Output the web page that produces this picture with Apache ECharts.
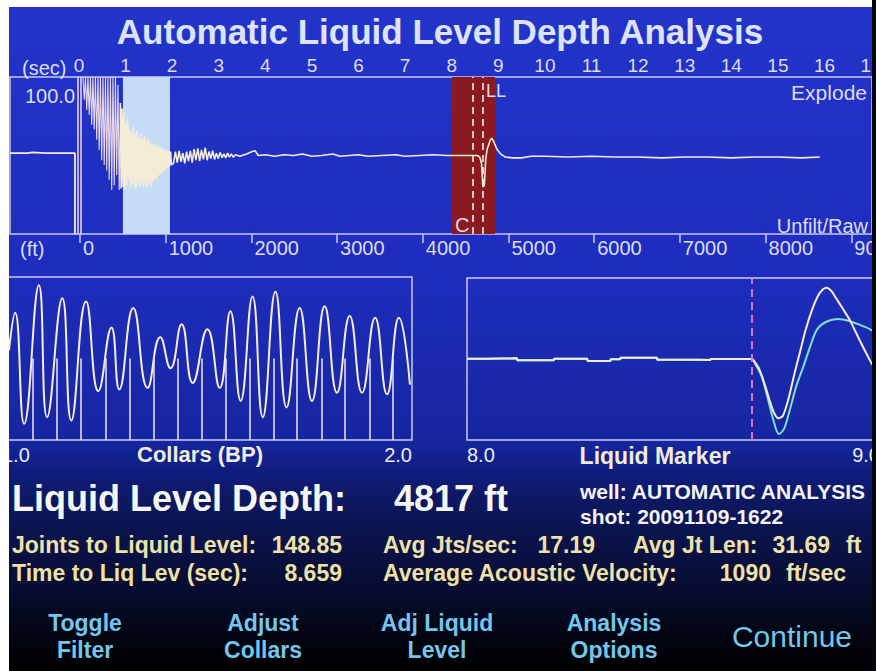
<!DOCTYPE html>
<html><head><meta charset="utf-8">
<script src="https://cdn.jsdelivr.net/npm/echarts@6/dist/echarts.min.js"></script>
<style>html,body{margin:0;padding:0;background:#fff;overflow:hidden}#c{width:876px;height:671px}</style>
</head><body><div id="c"></div>
<script>
// ---------- data ----------
const titleText = 'Automatic Liquid Level Depth Analysis';
const secTicks = [0,1,2,3,4,5,6,7,8,9,10,11,12,13,14,15,16,17];
const ftTicks = [0,1000,2000,3000,4000,5000,6000,7000,8000,9000];
const secRange = [-1.48, 17.02];
const ftRange = [-817, 9242];
const topScaleLabel = '100.0';
const filterBand = [0.944, 1.953];
const liquidBand = [8.006, 8.929];
const collarMarkTime = 8.457;
const liquidLevelTime = 8.671;
const zeroMarks = [-0.02, 0.045];
// trace before the shot (time, amplitude)
const topTracePre = [[-1.48,3],[-1.1,3],[-1.0,4],[-0.7,3],[-0.4,3],[-0.086,3],[-0.086,-100]];
// clipped burst just after the shot (time, amplitude)
const topTraceBurst = [
[0.086,100],[0.113,71],[0.140,100],[0.167,58],[0.193,100],[0.220,52],[0.247,100],[0.274,39],[0.300,100],[0.327,33],
[0.354,100],[0.381,20],[0.408,100],[0.435,7],[0.461,100],[0.488,-6],[0.515,100],[0.542,-12],[0.569,100],[0.596,-19],
[0.622,100],[0.649,-31],[0.676,100],[0.703,-44],[0.730,100],[0.757,-38],[0.783,100],[0.810,-25],[0.837,90],[0.864,-44],
[0.890,67]
];
// rest of the trace (time, amplitude)
const topTrace = [
[0.890,67],[0.905,-42],[0.925,60],[0.945,-40],[0.965,55],[0.985,-43],[1.005,42],[1.025,-38],[1.045,48],[1.065,-30],
[1.085,35],[1.105,-41],[1.125,30],[1.145,-36],[1.165,38],[1.185,-39],[1.205,27],[1.225,-42],[1.245,32],[1.265,-37],
[1.285,24],[1.305,-40],[1.325,28],[1.345,-35],[1.365,22],[1.385,-41],[1.405,25],[1.425,-38],[1.445,19],[1.465,-40],
[1.485,21],[1.505,-36],[1.525,17],[1.545,-39],[1.565,15],[1.585,-33],[1.605,16],[1.625,-30],[1.645,12],[1.665,-31],
[1.685,14],[1.705,-26],[1.725,10],[1.745,-24],[1.765,11],[1.785,-21],[1.805,9],[1.825,-20],[1.845,8],[1.865,-17],
[1.885,7],[1.905,-15],[1.925,6],[1.945,-14],[1.965,5],[1.985,-12],
[2.03,-10],[2.07,5],[2.11,-9],[2.15,6],[2.19,-8],[2.23,3],[2.27,-10],[2.31,5],[2.35,-7],[2.39,6],[2.43,-9],[2.47,8],
[2.51,-6],[2.55,9],[2.59,-7],[2.63,7],[2.67,-5],[2.71,10],[2.75,-6],[2.79,5],[2.83,-4],[2.87,6],[2.91,-5],[2.95,3],
[2.99,-4],[3.03,4],[3.07,-3],[3.11,2],[3.15,-3],[3.19,3],[3.23,-2],[3.27,2],[3.31,-2],[3.36,1],
[3.45,-1],[3.6,2],[3.72,5],[3.78,6],[3.85,0],[4.0,1],[4.2,-1],[4.4,1],[4.6,0],[4.8,2],[5.0,-1],[5.2,0],[5.45,2],
[5.6,-1],[5.8,0],[6.0,1],[6.2,-1],[6.5,0],[6.8,1],[7.0,-1],[7.3,0],[7.6,1],[7.9,0],[8.2,0],[8.55,0],
[8.60,-2],[8.64,-10],[8.67,-40],[8.70,-38],[8.73,-5],[8.76,8],[8.83,20],[8.86,22],[8.90,18],[8.97,8],[9.05,2],
[9.15,-2],[9.3,-3],[9.5,-3],[9.7,-1],[10.0,-1],[10.5,-2],[11.0,-1],[11.5,-2],[12.0,-2],[12.5,-3],[13.0,-2],
[13.5,-2],[14.0,-3],[14.5,-2],[15.0,-2],[15.5,-3],[15.9,-2]
];
// collars window (time, amplitude)
const collarRange = [1.0, 2.0];
const collarWave = [
[1.017,55],[1.032,78],[1.054,10],[1.090,95],[1.110,14],[1.147,87],[1.169,12],[1.205,85],[1.235,30],[1.267,69],
[1.286,31],[1.320,81],[1.355,32],[1.386,63],[1.411,44],[1.438,71],[1.465,35],[1.501,68],[1.531,32],[1.557,79],
[1.582,24],[1.611,88],[1.636,14],[1.667,91],[1.694,20],[1.726,81],[1.756,24],[1.787,82],[1.817,29],[1.848,76],
[1.878,29],[1.910,75],[1.939,28],[1.968,75],[1.995,34]
];
const collarTimes = [1.074,1.133,1.192,1.252,1.311,1.369,1.429,1.487,1.545,1.604,1.663,1.720,1.779,1.836,1.896,1.954];
const collarHeight = 50;
// liquid marker window
const markerRange = [8.0, 9.0];
const markerRaw = [
[8.0,50.2],[8.048,50.2],[8.049,50.4],[8.121,50.4],[8.122,49.2],[8.210,49.2],[8.211,50.2],[8.291,50.2],[8.292,48.8],
[8.347,48.8],[8.348,49.8],[8.371,49.8],[8.372,50.8],[8.460,50.8],[8.461,49.6],[8.516,49.6],[8.517,49.4],[8.589,49.4],
[8.590,50],[8.680,50],[8.689,50],[8.700,47],[8.709,43],[8.720,35],[8.732,25],[8.743,17],[8.754,13.4],[8.765,15],
[8.778,25],[8.792,40],[8.806,54],[8.820,68],[8.835,80],[8.850,89],[8.862,93],[8.871,94],[8.882,92],[8.895,87],
[8.910,81],[8.927,74],[8.950,62],[8.976,49],[8.990,43],[9.0,39]
];
const markerFiltered = [
[8.0,50.2],[8.048,50.2],[8.049,50.4],[8.121,50.4],[8.122,49.2],[8.210,49.2],[8.211,50.2],[8.291,50.2],[8.292,48.8],
[8.347,48.8],[8.348,49.8],[8.371,49.8],[8.372,50.8],[8.460,50.8],[8.461,49.6],[8.516,49.6],[8.517,49.4],[8.589,49.4],
[8.590,50],[8.680,50],[8.689,50],[8.700,46],[8.714,39],[8.727,27],[8.741,13],[8.755,3.7],[8.768,7],[8.781,18],
[8.797,33],[8.814,45],[8.830,57],[8.847,68],[8.870,73],[8.898,74.7],[8.925,73.5],[8.952,71],[8.975,68.5],[8.990,66],[9.0,64]
];
const liquidMarkTime = 8.6925;
// info panel
const depthLabel = 'Liquid Level Depth:';
const depthValue = '4817 ft';
const wellLine = 'well: AUTOMATIC ANALYSIS';
const shotLine = 'shot: 20091109-1622';
const statLabels = ['Joints to Liquid Level:', 'Time to Liq Lev (sec):', 'Avg Jts/sec:', 'Average Acoustic Velocity:', 'Avg Jt Len:'];
const statValues = ['148.85', '8.659', '17.19', '1090', '31.69'];
const statUnits = ['', '', '', 'ft/sec', 'ft'];
const buttonLabels = ['Toggle\nFilter', 'Adjust\nCollars', 'Adj Liquid\nLevel', 'Analysis\nOptions', 'Continue'];

// ---------- layout / style ----------
const FF = '"Liberation Sans", Arial, Helvetica, sans-serif';
const frameColor = '#c9c9ee';
const axisTextColor = '#dcdcf6';
const cream = '#f3ecd6';
const statColor = '#f0e2a4';
const btnColor = '#74c6ee';

function T(text, x, y, size, color, align, weight, lh) {
  const st = { text: text, fill: color, font: (weight || 'normal') + ' ' + size + 'px ' + FF,
               textAlign: align || 'left', textVerticalAlign: 'middle' };
  if (lh) st.lineHeight = lh;
  return { type: 'text', x: x, y: y, z: 50, silent: true, style: st };
}

const graphics = [
  T(titleText, 440, 31, 35, '#dde2ff', 'center', 'bold'),
  T('(sec)', 22, 68, 20, axisTextColor),
  T('(ft)', 20, 249, 20, axisTextColor),
  T(topScaleLabel, 25, 96, 20, axisTextColor),
  T('Explode', 867, 92, 21, axisTextColor, 'right'),
  T('Unfilt/Raw', 868, 226, 20, axisTextColor, 'right'),
  T('LL', 486, 91, 18, axisTextColor),
  T('C', 455, 225, 20, axisTextColor),
  T('Collars (BP)', 200, 454, 22, '#f0ecd8', 'center', 'bold'),
  T('Liquid Marker', 655, 456, 23, '#f0ecd8', 'center', 'bold'),
  T(depthLabel, 12, 498, 36, '#f6f6f2', 'left', 'bold'),
  T(depthValue, 394, 498, 36, '#f6f6f2', 'left', 'bold'),
  T(wellLine, 580, 491, 21, '#f4f4f4', 'left', 'bold'),
  T(shotLine, 580, 516, 21, '#f4f4f4', 'left', 'bold'),
  T(statLabels[0], 12, 545, 23, statColor, 'left', 'bold'),
  T(statValues[0], 342, 545, 23, statColor, 'right', 'bold'),
  T(statLabels[1], 12, 573, 23, statColor, 'left', 'bold'),
  T(statValues[1], 342, 573, 23, statColor, 'right', 'bold'),
  T(statLabels[2], 383, 545, 23, statColor, 'left', 'bold'),
  T(statValues[2], 595, 545, 23, statColor, 'right', 'bold'),
  T(statLabels[3], 383, 573, 23, statColor, 'left', 'bold'),
  T(statValues[3], 771, 573, 23, statColor, 'right', 'bold'),
  T(statUnits[3], 786, 573, 23, statColor, 'left', 'bold'),
  T(statLabels[4], 633, 545, 23, statColor, 'left', 'bold'),
  T(statValues[4], 830, 545, 23, statColor, 'right', 'bold'),
  T(statUnits[4], 846, 545, 23, statColor, 'left', 'bold')
];
const btnX = [85, 263, 437, 614, 792];
buttonLabels.forEach(function (b, i) {
  const last = i === buttonLabels.length - 1;
  graphics.push(T(b, btnX[i], 636, last ? 30 : 23, btnColor, 'center', last ? 'normal' : 'bold', 27));
});
// screen edges
graphics.push({ type: 'rect', z: 100, silent: true, shape: { x: 0, y: 0, width: 9, height: 671 }, style: { fill: '#ffffff' } });
graphics.push({ type: 'rect', z: 100, silent: true, shape: { x: 0, y: 0, width: 872, height: 7 }, style: { fill: '#ffffff' } });
graphics.push({ type: 'rect', z: 100, silent: true, shape: { x: 872, y: 0, width: 4, height: 671 }, style: { fill: '#08080c' } });

const hiddenY = function (idx, min, max) {
  return { type: 'value', gridIndex: idx, min: min, max: max, show: false, splitLine: { show: false } };
};
const baseX = { type: 'value', splitLine: { show: false }, axisLine: { show: false }, axisTick: { show: false } };
const gridBase = { show: true, borderColor: frameColor, borderWidth: 1.5, backgroundColor: 'transparent',
                   containLabel: false, outerBoundsMode: 'none' };
const plain = function (v) { return String(v); };

const option = {
  animation: false,
  backgroundColor: {
    type: 'linear', x: 0, y: 0, x2: 0, y2: 1,
    colorStops: [
      { offset: 0, color: '#2334c9' }, { offset: 0.40, color: '#1e2dbe' }, { offset: 0.656, color: '#1626a0' },
      { offset: 0.70, color: '#101d80' }, { offset: 0.745, color: '#0d1862' }, { offset: 0.81, color: '#0a1248' },
      { offset: 0.894, color: '#060b2a' }, { offset: 0.954, color: '#02040e' }, { offset: 1, color: '#000000' }
    ]
  },
  grid: [
    Object.assign({ left: 10, top: 77, width: 862, height: 157 }, gridBase),
    Object.assign({ left: 2, top: 277, width: 410, height: 163 }, gridBase),
    Object.assign({ left: 467, top: 278, width: 413, height: 162 }, gridBase)
  ],
  xAxis: [
    Object.assign({}, baseX, { gridIndex: 0, position: 'top', min: secRange[0], max: secRange[1],
      axisLabel: { customValues: secTicks, formatter: plain, color: axisTextColor, fontSize: 19, fontFamily: FF, margin: 2 } }),
    Object.assign({}, baseX, { gridIndex: 0, position: 'bottom', min: ftRange[0], max: ftRange[1],
      axisTick: { show: true, customValues: ftTicks, length: 9, lineStyle: { color: frameColor, width: 1.5 } },
      axisLabel: { customValues: ftTicks, formatter: plain, color: axisTextColor, fontSize: 20, fontFamily: FF, margin: 4, align: 'left', padding: [0, 0, 0, 3] } }),
    Object.assign({}, baseX, { gridIndex: 1, min: collarRange[0], max: collarRange[1],
      axisLabel: { customValues: collarRange, formatter: function (v) { return v.toFixed(1); }, color: '#ecebf6', fontSize: 20, fontFamily: FF, margin: 5, alignMinLabel: 'left', alignMaxLabel: 'right' } }),
    Object.assign({}, baseX, { gridIndex: 2, min: markerRange[0], max: markerRange[1],
      axisLabel: { customValues: markerRange, formatter: function (v) { return v.toFixed(1); }, color: '#ecebf6', fontSize: 20, fontFamily: FF, margin: 5, alignMinLabel: 'left', alignMaxLabel: 'right' } })
  ],
  yAxis: [ hiddenY(0, -100, 100), hiddenY(1, 0, 100), hiddenY(2, 0, 100) ],
  series: [
    { type: 'line', xAxisIndex: 0, yAxisIndex: 0, data: topTracePre, showSymbol: false, silent: true, z: 3,
      lineStyle: { color: cream, width: 1.8 } },
    { type: 'line', xAxisIndex: 0, yAxisIndex: 0, data: topTraceBurst, showSymbol: false, silent: true, z: 3,
      lineStyle: { color: '#e9d7ec', width: 1.1 } },
    { type: 'line', xAxisIndex: 0, yAxisIndex: 0, data: topTrace, showSymbol: false, silent: true, z: 3,
      lineStyle: { color: cream, width: 1.6 },
      markArea: { silent: true, data: [
        [{ xAxis: filterBand[0], itemStyle: { color: '#c6dcf6' } }, { xAxis: filterBand[1] }],
        [{ xAxis: liquidBand[0], itemStyle: { color: '#8a1a1f' } }, { xAxis: liquidBand[1] }]
      ] },
      markLine: { silent: true, symbol: 'none', label: { show: false }, data: [
        { xAxis: collarMarkTime, lineStyle: { color: '#f4f0f0', type: [7, 5], width: 1.6 } },
        { xAxis: liquidLevelTime, lineStyle: { color: '#f4f0f0', type: [7, 5], width: 1.6 } },
        { xAxis: zeroMarks[0], lineStyle: { color: '#e6cfe6', type: 'solid', width: 1.6 } },
        { xAxis: zeroMarks[1], lineStyle: { color: '#e6cfe6', type: 'solid', width: 1.6 } }
      ] } },
    { type: 'line', xAxisIndex: 2, yAxisIndex: 1, data: collarWave, smooth: 0.5, showSymbol: false, silent: true,
      lineStyle: { color: cream, width: 2 },
      markLine: { silent: true, symbol: 'none', label: { show: false },
        lineStyle: { color: '#ece6f6', width: 1.5, type: 'solid' },
        data: collarTimes.map(function (t) { return [{ coord: [t, 0] }, { coord: [t, collarHeight] }]; }) } },
    { type: 'line', xAxisIndex: 3, yAxisIndex: 2, data: markerFiltered, smooth: 0.3, showSymbol: false, silent: true,
      lineStyle: { color: '#7ee0c8', width: 2 } },
    { type: 'line', xAxisIndex: 3, yAxisIndex: 2, data: markerRaw, smooth: 0.3, showSymbol: false, silent: true,
      lineStyle: { color: '#f4ecd4', width: 2 },
      markLine: { silent: true, symbol: 'none', label: { show: false }, data: [
        { xAxis: liquidMarkTime, lineStyle: { color: '#e070c0', type: [8, 5], width: 2 } }
      ] } }
  ],
  graphic: graphics
};
const chart = echarts.init(document.getElementById('c'), null, { renderer: 'svg' });
chart.setOption(option);
</script>
</body></html>
